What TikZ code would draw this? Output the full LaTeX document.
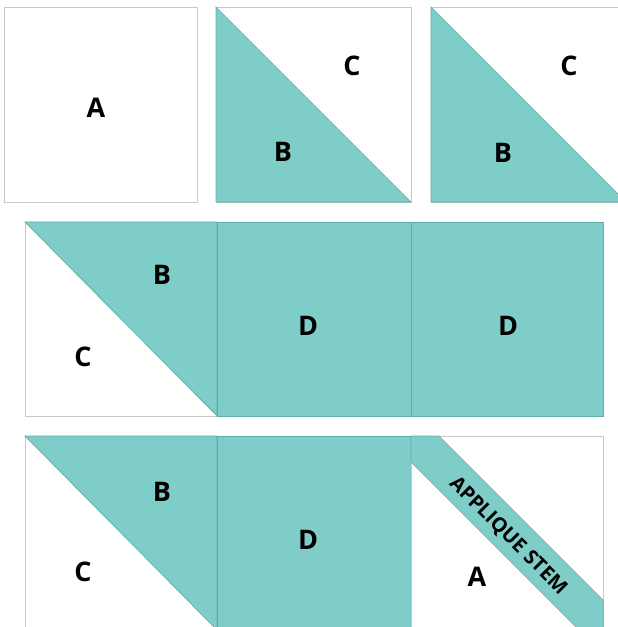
\documentclass[tikz,border=0pt]{standalone}
\usepackage{fontspec}
\setmainfont{Open Sans}
\usepackage{xcolor}
\definecolor{cTeal}    {HTML}{7FCDC8}
\definecolor{cTealLine}{HTML}{62ADA8}
\definecolor{cFrame}   {HTML}{C8C8C8}
\usepackage{tikz}
\tikzset{
  patch/.style   = {draw=cFrame, line width=1pt, fill=white},
  tealpc/.style  = {fill=cTeal, draw=cTealLine, line width=0.7pt},
  lbl/.style     = {font=\fontsize{27}{27}\selectfont\bfseries,
                    inner sep=0pt},
  stemlbl/.style = {font=\fontsize{20}{20}\selectfont\bfseries,
                    inner sep=0pt, rotate=-45},
}

\begin{document}
\begin{tikzpicture}[x=1pt, y=-1pt]
  \useasboundingbox (0,0) rectangle (618,627);
  \clip (0,0) rectangle (618,627);

  %% Top row
  \draw[patch] (4,7) rectangle (197,202);
  \node[lbl] (a1) at (96,108) {A};

  \draw[patch] (216,7) rectangle (411,202);
  \filldraw[tealpc] (216,7) -- (411,202) -- (216,202) -- cycle;
  \node[lbl] (c1) at (352,66) {C};
  \node[lbl] (b1) at (283,152) {B};

  \draw[patch] (431,7) rectangle (626,202);
  \filldraw[tealpc] (431,7) -- (626,202) -- (431,202) -- cycle;
  \node[lbl] (c2) at (569,66) {C};
  \node[lbl] (b2) at (503,153) {B};

  %% Middle row
  \draw[patch] (25,222) rectangle (217,416);
  \filldraw[tealpc] (25,222) -- (217,222) -- (217,416) -- cycle;
  \node[lbl] (b3) at (162,275) {B};
  \node[lbl] (c3) at (83,357) {C};

  \filldraw[tealpc] (217,222) rectangle (411,416);
  \node[lbl] (d1) at (308,326) {D};
  \filldraw[tealpc] (411,222) rectangle (603,416);
  \node[lbl] (d2) at (508,326) {D};

  %% Bottom row
  \draw[patch] (25,436) rectangle (217,630);
  \filldraw[tealpc] (25,436) -- (217,436) -- (217,630) -- cycle;
  \node[lbl] (b4) at (162,492) {B};
  \node[lbl] (c4) at (83,572) {C};

  \filldraw[tealpc] (217,436) rectangle (411,630);
  \node[lbl] (d3) at (308,540) {D};

  \draw[patch] (411,436) rectangle (603,630);
  \filldraw[tealpc] (411,436) -- (439,436) -- (603,600) -- (603,630)
                    -- (579,630) -- (411,462) -- cycle;
  \node[stemlbl] (stem) at (508,536) {APPLIQUE STEM};
  \node[lbl] (a2) at (477,577) {A};

\end{tikzpicture}
\end{document}
